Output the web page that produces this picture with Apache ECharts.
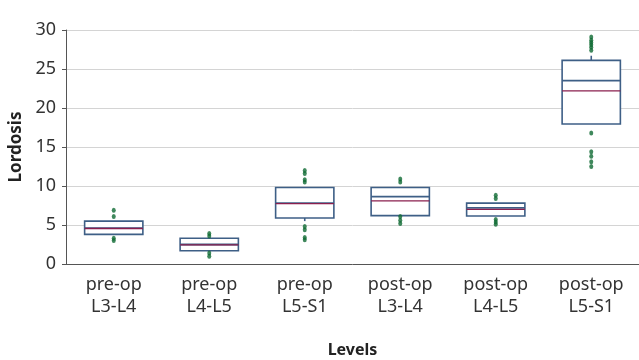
<!DOCTYPE html>
<html>
<head>
<meta charset="utf-8">
<script src="https://cdn.jsdelivr.net/npm/echarts@6/dist/echarts.min.js"></script>
<style>html,body{margin:0;padding:0;background:#fff}#c{width:639px;height:360px}</style>
</head>
<body>
<div id="c"></div>
<script>
var categories = ['pre-op\nL3-L4', 'pre-op\nL4-L5', 'pre-op\nL5-S1', 'post-op\nL3-L4', 'post-op\nL4-L5', 'post-op\nL5-S1'];
var whiskerLow = [3.8, 1.7, 5.5, 6.2, 6.15, 17.95];
var q1 = [3.8, 1.7, 5.9, 6.2, 6.15, 17.95];
var median = [4.6, 2.5, 7.8, 8.65, 7.2, 23.5];
var mean = [4.55, 2.45, 7.75, 8.1, 7.0, 22.2];
var q3 = [5.5, 3.3, 9.8, 9.8, 7.8, 26.1];
var whiskerHigh = [5.5, 3.3, 9.8, 9.8, 7.8, 26.7];
var outliers = [
  [6.9, 6.1, 3.3, 3.0],
  [3.9, 3.6, 1.4, 1.0],
  [12.0, 11.6, 10.8, 10.5, 4.8, 4.4, 3.4, 3.1],
  [10.9, 10.5, 6.1, 5.6, 5.2],
  [8.8, 8.4, 5.7, 5.4, 5.1],
  [29.1, 28.7, 28.4, 28.1, 27.8, 27.4, 16.8, 14.4, 13.8, 13.1, 12.5]
];
var yTicks = [0, 5, 10, 15, 20, 25, 30];

var boxData = categories.map(function (c, i) {
  return [i, whiskerLow[i], q1[i], median[i], mean[i], q3[i], whiskerHigh[i]];
});
var outlierData = [];
outliers.forEach(function (arr, i) { arr.forEach(function (v) { outlierData.push([i, v]); }); });

var BOX = '#3e5f86', MED = '#8a1f4e', DOT = '#0f6a33';
var font = 'Noto Sans';

var chart = echarts.init(document.getElementById('c'));
chart.setOption({
  animation: false,
  grid: { left: 66, right: 0, top: 30, bottom: 96, containLabel: false, outerBoundsMode: 'none' },
  xAxis: {
    type: 'category', data: categories,
    name: 'Levels', nameLocation: 'middle', nameGap: 78,
    nameTextStyle: { fontFamily: font, fontSize: 16, fontWeight: 'bold', color: '#222' },
    axisLine: { lineStyle: { color: '#555', width: 1 } },
    axisTick: { alignWithLabel: true, length: 4, lineStyle: { color: '#555' } },
    axisLabel: { fontFamily: font, fontSize: 18, color: '#333', lineHeight: 22, margin: 10, interval: 0 },
    splitLine: { show: false }
  },
  yAxis: {
    type: 'value', min: 0, max: 30, interval: 5,
    name: 'Lordosis', nameLocation: 'middle', nameGap: 40,
    nameTextStyle: { fontFamily: font, fontSize: 17, fontWeight: 'bold', color: '#222' },
    axisLine: { show: true, lineStyle: { color: '#555', width: 1 } },
    axisTick: { show: true, length: 4, lineStyle: { color: '#555' } },
    axisLabel: { fontFamily: font, fontSize: 18, color: '#333', margin: 10,
      formatter: function (v) { return yTicks.indexOf(v) >= 0 ? String(v) : ''; } },
    splitLine: { lineStyle: { color: '#d4d4d4', width: 1 } }
  },
  series: [
    {
      type: 'custom',
      data: boxData,
      encode: { x: 0, y: [1, 2, 3, 4, 5, 6] },
      renderItem: function (params, api) {
        var x = api.value(0);
        var pLow = api.coord([x, api.value(1)]);
        var pQ1 = api.coord([x, api.value(2)]);
        var pMed = api.coord([x, api.value(3)]);
        var pMean = api.coord([x, api.value(4)]);
        var pQ3 = api.coord([x, api.value(5)]);
        var pHigh = api.coord([x, api.value(6)]);
        var w = api.size([1, 0])[0] * 0.61;
        var cx = pQ1[0], l = cx - w / 2, r = cx + w / 2;
        var children = [
          { type: 'line', shape: { x1: cx, y1: pQ3[1], x2: cx, y2: pHigh[1] }, style: { stroke: BOX, lineWidth: 1.6 } },
          { type: 'line', shape: { x1: cx, y1: pQ1[1], x2: cx, y2: pLow[1] }, style: { stroke: BOX, lineWidth: 1.6 } },
          { type: 'rect', shape: { x: l, y: pQ3[1], width: w, height: pQ1[1] - pQ3[1] }, style: { stroke: BOX, lineWidth: 1.6, fill: '#fff' } },
          { type: 'line', shape: { x1: l, y1: pMed[1], x2: r, y2: pMed[1] }, style: { stroke: BOX, lineWidth: 1.8 } },
          { type: 'line', shape: { x1: l, y1: pMean[1], x2: r, y2: pMean[1] }, style: { stroke: MED, lineWidth: 1.3 } }
        ];
        return { type: 'group', children: children };
      },
      z: 2
    },
    {
      type: 'scatter',
      data: outlierData,
      symbol: 'circle',
      symbolSize: [4, 5],
      itemStyle: { color: DOT },
      z: 3
    }
  ]
});
</script>
</body>
</html>
